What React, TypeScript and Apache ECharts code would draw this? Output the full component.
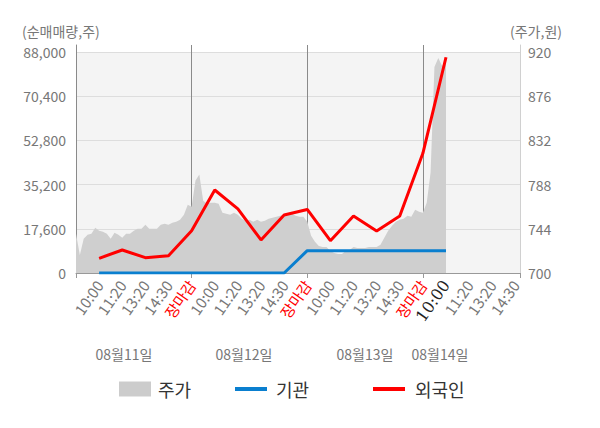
import React, { useEffect, useRef } from "react";
import * as echarts from "echarts";

// x-axis tick labels (index = position unit; 0 is the left edge)
const timeLabels = [
  "",
  "10:00", "11:20", "13:20", "14:30", "장마감",
  "10:00", "11:20", "13:20", "14:30", "장마감",
  "10:00", "11:20", "13:20", "14:30", "장마감",
  "10:00", "11:20", "13:20", "14:30",
];
const currentIndex = 16; // highlighted (dark) label
const dateLabels = ["08월11일", "08월12일", "08월13일", "08월14일"];

// net buying (shares) at label positions 1..16
const foreignNet = [5850, 9160, 6100, 6900, 16850, 33050, 25500, 13150, 23100, 25300, 12850, 22700, 16700, 22700, 47650, 85900];
const instNet = [0, 0, 0, 0, 0, 0, 0, 0, 0, 8900, 8900, 8900, 8900, 8900, 8900, 8900];

// stock price (won), 6 samples per label step, starting at the left edge
const prices = [
  739, 718, 734, 738, 739, 745, 742, 741, 739, 734, 740, 738, 735, 739, 739, 742,
  744, 744, 748, 744, 744, 744, 748, 749, 748, 750, 751, 753, 758, 768, 766, 792,
  798, 772, 769, 770, 770, 769, 760, 759, 758, 760, 758, 754, 752, 753, 751, 753,
  751, 752, 754, 755, 756, 757, 758, 758, 759, 757, 756, 756, 751, 737, 731, 727,
  726, 726, 722, 720, 719, 719, 722, 723, 726, 725, 725, 725, 726, 726, 726, 728,
  735, 742, 747, 751, 753, 754, 757, 756, 763, 761, 760, 770, 800, 905, 914, 906,
  911,
];
const samplesPerStep = 6;

const leftTicks = { min: 0, max: 88000, interval: 17600 };
const rightTicks = { min: 700, max: 920, interval: 44 };
const xRange = { min: 0, max: 19.2 };

const FONT = "'Noto Sans CJK KR', 'Noto Sans', sans-serif";

export default function App() {
  const ref = useRef<HTMLDivElement>(null);
  useEffect(() => {
    document.body.style.margin = "0";
    if (!ref.current) return;
    const chart = echarts.init(ref.current, undefined, { renderer: "svg" });
    const gridBox = { left: 76, right: 80, bottom: 155 };
    const option: any = {
      animation: false,
      textStyle: { fontFamily: FONT },
      grid: [
        { ...gridBox, top: 52, show: true, backgroundColor: "#f4f4f4", borderWidth: 0, containLabel: false },
        { ...gridBox, top: 45, show: false, containLabel: false },
      ],
      xAxis: [
        {
          type: "value",
          gridIndex: 0,
          min: xRange.min,
          max: xRange.max,
          interval: 1,
          axisLine: { show: false },
          axisTick: { show: false },
          splitLine: { show: false },
          axisLabel: {
            rotate: 55,
            margin: 9,
            fontSize: 15,
            color: "#777",
            fontFamily: FONT,
            showMaxLabel: false,
            formatter: (v: number) => {
              if (Math.abs(v - Math.round(v)) > 1e-6) return "";
              const i = Math.round(v);
              const t = timeLabels[i] || "";
              if (!t) return "";
              if (t === "장마감") return "{r|" + t + "}";
              if (i === currentIndex) return "{c|" + t + "}";
              return t;
            },
            rich: {
              r: { color: "#ff0000", fontSize: 15, fontFamily: FONT },
              c: { color: "#222", fontSize: 16, fontFamily: "'DejaVu Serif', serif" },
            },
          },
        },
        {
          type: "value",
          gridIndex: 1,
          min: xRange.min,
          max: xRange.max,
          interval: 5,
          axisLine: { show: true, lineStyle: { color: "#999", width: 1 } },
          axisTick: { show: true, length: 5, lineStyle: { color: "#999" } },
          axisLabel: { show: false },
          splitLine: { show: true, lineStyle: { color: "#8a8a8a", width: 1 } },
        },
      ],
      yAxis: [
        {
          type: "value",
          gridIndex: 0,
          ...leftTicks,
          axisLine: { show: false },
          axisTick: { show: false },
          splitLine: { show: true, lineStyle: { color: "#dddddd" } },
          axisLabel: {
            margin: 10,
            fontSize: 14,
            color: "#777",
            fontFamily: FONT,
            formatter: (v: number) => v.toLocaleString("en-US"),
          },
        },
        {
          type: "value",
          gridIndex: 0,
          position: "right",
          ...rightTicks,
          axisLine: { show: false },
          axisTick: { show: false },
          splitLine: { show: false },
          axisLabel: { margin: 8, fontSize: 14, color: "#777", fontFamily: FONT },
        },
        {
          type: "value",
          gridIndex: 1,
          min: 0,
          max: 1,
          axisLine: { show: true, lineStyle: { color: "#8a8a8a" } },
          axisTick: { show: false },
          axisLabel: { show: false },
          splitLine: { show: false },
        },
        {
          type: "value",
          gridIndex: 1,
          position: "right",
          min: 0,
          max: 1,
          axisLine: { show: true, lineStyle: { color: "#d0d0d0" } },
          axisTick: { show: false },
          axisLabel: { show: false },
          splitLine: { show: false },
        },
      ],
      legend: [
        {
          data: ["주가"], left: 114, top: 375, icon: "rect", itemWidth: 32, itemHeight: 15, itemGap: 0,
          textStyle: { fontSize: 18, color: "#333", fontFamily: FONT, padding: [0, 0, 0, 2] },
        },
        {
          data: ["기관"], left: 230, top: 375, icon: "rect", itemWidth: 32, itemHeight: 4, itemGap: 0,
          textStyle: { fontSize: 18, color: "#333", fontFamily: FONT, padding: [0, 0, 0, 4] },
        },
        {
          data: ["외국인"], left: 368, top: 375, icon: "rect", itemWidth: 32, itemHeight: 4, itemGap: 0,
          textStyle: { fontSize: 18, color: "#333", fontFamily: FONT, padding: [0, 0, 0, 5] },
        },
      ],
      graphic: [
        { type: "text", left: 22, top: 24, style: { text: "(순매매량,주)", fontSize: 14, fill: "#777", fontFamily: FONT } },
        { type: "text", left: 510, top: 24, style: { text: "(주가,원)", fontSize: 14, fill: "#777", fontFamily: FONT } },
        ...dateLabels.map((d, i) => ({
          type: "text",
          x: [124, 244, 365, 440][i],
          y: 354,
          style: { text: d, fontSize: 14, fill: "#777", fontFamily: FONT, align: "center", verticalAlign: "middle" },
        })),
      ],
      series: [
        {
          name: "주가",
          type: "line",
          xAxisIndex: 0,
          yAxisIndex: 1,
          color: "#cccccc",
          data: prices.map((p, i) => [i / samplesPerStep, p]),
          showSymbol: false,
          symbol: "none",
          lineStyle: { width: 0, color: "#cccccc" },
          areaStyle: { color: "#cfcfcf", opacity: 1, origin: "start" },
          z: 1,
        },
        {
          name: "기관",
          type: "line",
          xAxisIndex: 0,
          yAxisIndex: 0,
          color: "#0a7fcf",
          data: instNet.map((v, i) => [i + 1, v]),
          showSymbol: false,
          symbol: "none",
          lineStyle: { width: 3, color: "#0a7fcf" },
          z: 3,
        },
        {
          name: "외국인",
          type: "line",
          xAxisIndex: 0,
          yAxisIndex: 0,
          color: "#ff0000",
          data: foreignNet.map((v, i) => [i + 1, v]),
          showSymbol: false,
          symbol: "none",
          lineStyle: { width: 3, color: "#ff0000" },
          z: 4,
        },
      ],
    };
    chart.setOption(option);
    return () => chart.dispose();
  }, []);
  return <div ref={ref} style={{ width: 600, height: 428 }} />;
}
